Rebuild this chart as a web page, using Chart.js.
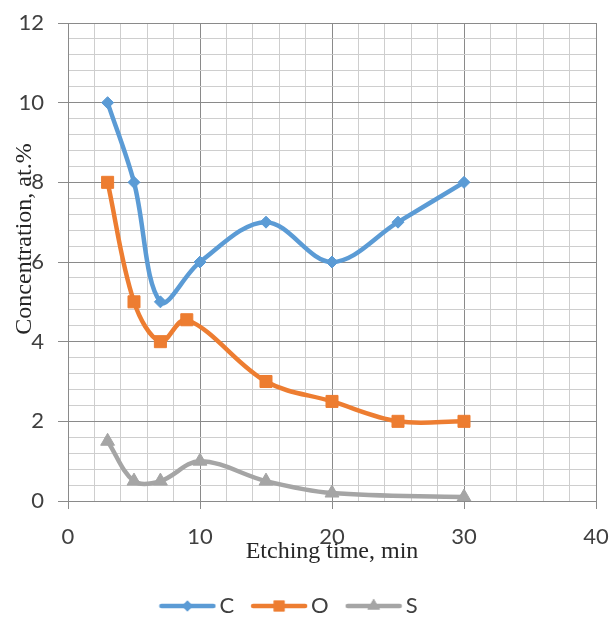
<!DOCTYPE html>
<html>
<head>
<meta charset="utf-8">
<script src="https://cdn.jsdelivr.net/npm/chart.js@4"></script>
<style>
  html, body { margin: 0; padding: 0; background: #fff; }
  #wrap { width: 611px; height: 617px; }
</style>
</head>
<body>
<div id="wrap"><canvas id="chart" width="611" height="617"></canvas></div>
<script>
// data
const seriesNames = ['C', 'O', 'S'];
const cTime = [3, 5, 7, 10, 15, 20, 25, 30];
const cValues = [10, 8, 5, 6, 7, 6, 7, 8];
const oTime = [3, 5, 7, 9, 15, 20, 25, 30];
const oValues = [8, 5, 4, 4.55, 3, 2.5, 2, 2];
const sTime = [3, 5, 7, 10, 15, 20, 30];
const sValues = [1.5, 0.5, 0.5, 1, 0.5, 0.2, 0.1];

const xTitle = 'Etching time, min';
const yTitle = 'Concentration, at.%';

const colors = ['#5b9bd5', '#ed7d31', '#a5a5a5'];
const markers = ['rectRot', 'rect', 'triangle'];
const markerSize = [6, 8.5, 8];

const MAJOR = '#8a8a8a';
const MINOR = '#cecece';

function toPoints(xs, ys) {
    return xs.map((x, i) => ({ x: x, y: ys[i] }));
}

function isMultiple(v, step) {
    return Math.abs(v / step - Math.round(v / step)) < 1e-6;
}

// little legend sample: line with the marker in the middle
function legendSample(i) {
    const c = document.createElement('canvas');
    c.width = 58;
    c.height = 18;
    const ctx = c.getContext('2d');
    ctx.strokeStyle = colors[i];
    ctx.lineWidth = 4.5;
    ctx.lineCap = 'round';
    ctx.beginPath();
    ctx.moveTo(3, 9);
    ctx.lineTo(55, 9);
    ctx.stroke();
    ctx.fillStyle = colors[i];
    Chart.helpers.drawPoint(ctx, { pointStyle: markers[i], radius: markerSize[i] * 0.9, borderWidth: 0 }, 29, 9);
    ctx.fill();
    return c;
}

const allData = [toPoints(cTime, cValues), toPoints(oTime, oValues), toPoints(sTime, sValues)];

const datasets = seriesNames.map((name, i) => ({
    label: name,
    data: allData[i],
    borderColor: colors[i],
    backgroundColor: colors[i],
    borderWidth: 4.5,
    tension: 0.35,
    pointStyle: markers[i],
    pointRadius: markerSize[i],
    pointBorderWidth: 1,
    pointBackgroundColor: colors[i],
    pointBorderColor: colors[i]
}));

const titlesPlugin = {
    id: 'axisTitles',
    afterLayout(chart) {
        // Excel puts the legend a bit lower and left of centre
        const lg = chart.legend;
        lg.top += 10; lg.bottom += 10;
        lg.left -= 6; lg.right -= 6;
    },
    afterDraw(chart) {
        const ctx = chart.ctx;
        ctx.save();
        ctx.fillStyle = '#262626';
        ctx.font = '24px "Liberation Serif"';
        ctx.textAlign = 'center';
        ctx.textBaseline = 'alphabetic';
        ctx.fillText(xTitle, 332, 558);
        ctx.translate(31, 239);
        ctx.rotate(-Math.PI / 2);
        ctx.fillText(yTitle, 0, 0);
        ctx.restore();
    }
};

new Chart(document.getElementById('chart'), {
    type: 'line',
    data: { datasets: datasets },
    plugins: [titlesPlugin],
    options: {
        responsive: false,
        animation: false,
        layout: { padding: { left: 0, right: 15, top: 23, bottom: 0 } },
        plugins: {
            tooltip: { enabled: false },
            legend: {
                position: 'bottom',
                labels: {
                    usePointStyle: true,
                    pointStyleWidth: 42,
                    boxHeight: 18,
                    padding: 24,
                    color: '#404040',
                    font: { family: 'Lato', size: 22 },
                    generateLabels(chart) {
                        return seriesNames.map((name, i) => ({
                            text: name,
                            fillStyle: colors[i],
                            strokeStyle: colors[i],
                            lineWidth: 0,
                            pointStyle: legendSample(i),
                            fontColor: '#404040',
                            datasetIndex: i
                        }));
                    }
                }
            }
        },
        scales: {
            x: {
                type: 'linear',
                min: 0,
                max: 40,
                afterFit(scale) {
                    scale.height = 60;
                    scale.paddingLeft = 0;
                    scale.paddingRight = 0;
                },
                ticks: {
                    stepSize: 2,
                    autoSkip: false,
                    maxRotation: 0,
                    padding: 15,
                    color: '#404040',
                    font: { family: 'Lato', size: 22 },
                    callback: v => isMultiple(v, 10) ? String(v) : ''
                },
                grid: {
                    color: c => isMultiple(c.tick.value, 10) ? MAJOR : MINOR,
                    tickColor: c => isMultiple(c.tick.value, 10) ? MAJOR : 'rgba(0,0,0,0)',
                    tickLength: 8
                },
                border: { color: MAJOR }
            },
            y: {
                min: 0,
                max: 12,
                afterFit(scale) {
                    scale.width = 68;
                    scale.paddingTop = 0;
                    scale.paddingBottom = 0;
                },
                ticks: {
                    stepSize: 0.4,
                    autoSkip: false,
                    padding: 14,
                    color: '#404040',
                    font: { family: 'Lato', size: 22 },
                    callback: v => isMultiple(v, 2) ? String(Math.round(v)) : ''
                },
                grid: {
                    color: c => isMultiple(c.tick.value, 2) ? MAJOR : MINOR,
                    tickColor: c => isMultiple(c.tick.value, 2) ? MAJOR : 'rgba(0,0,0,0)',
                    tickLength: 10
                },
                border: { color: MAJOR }
            }
        }
    }
});
</script>
</body>
</html>
